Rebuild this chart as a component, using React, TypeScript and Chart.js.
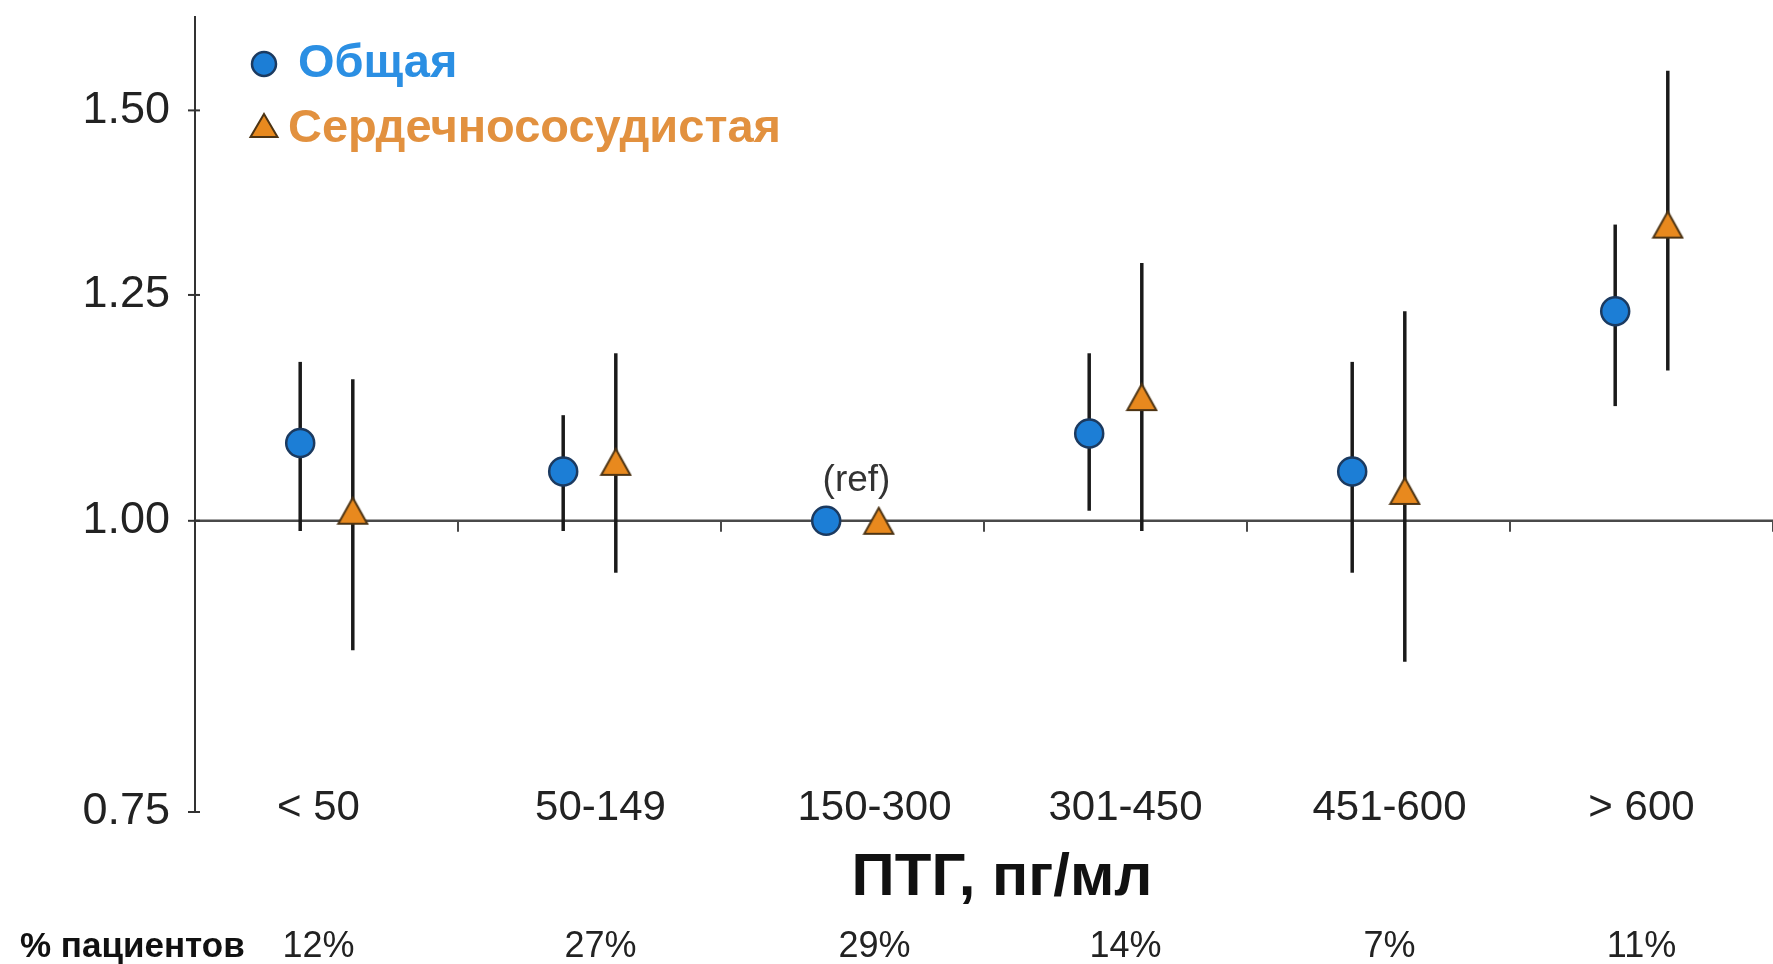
import React, { useEffect, useRef } from 'react';
import { Chart, registerables } from 'chart.js';

Chart.register(...registerables);

// ---- data ----
const categories = ['< 50', '50-149', '150-300', '301-450', '451-600', '> 600'];
const patientShare = ['12%', '27%', '29%', '14%', '7%', '11%'];
const overallHR = [1.08, 1.05, 1.0, 1.09, 1.05, 1.23];
const overallLow: (number | null)[] = [0.99, 0.99, null, 1.01, 0.95, 1.12];
const overallHigh: (number | null)[] = [1.17, 1.11, null, 1.18, 1.17, 1.34];
const cvHR = [1.01, 1.06, 1.0, 1.13, 1.03, 1.34];
const cvLow: (number | null)[] = [0.88, 0.95, null, 0.99, 0.87, 1.16];
const cvHigh: (number | null)[] = [1.15, 1.18, null, 1.29, 1.23, 1.56];
const yTicks = [0.75, 1.0, 1.25, 1.5];
const refIndex = 2;
const seriesNames = ['Общая', 'Сердечнососудистая'];
const xTitle = 'ПТГ, пг/мл';
const shareTitle = '% пациентов';

// ---- style ----
const FONT = '"Liberation Sans", Arial, sans-serif';
const BLUE = '#1c7ed6';
const BLUE_EDGE = '#1b3a60';
const ORANGE = '#e8891e';
const ORANGE_EDGE = '#4d3414';
const OFFSET = 0.1;
const LABEL_NUDGE = [-8, 11, 22, 10, 11, 0];

function makeTriangle(w: number, h: number, lw: number): HTMLCanvasElement {
  const c = document.createElement('canvas');
  c.width = w + lw * 2;
  c.height = h + lw * 2;
  const g = c.getContext('2d')!;
  g.beginPath();
  g.moveTo(lw + w / 2, lw);
  g.lineTo(lw + w, lw + h);
  g.lineTo(lw, lw + h);
  g.closePath();
  g.fillStyle = ORANGE;
  g.fill();
  g.lineWidth = lw;
  g.lineJoin = 'miter';
  g.strokeStyle = ORANGE_EDGE;
  g.stroke();
  return c;
}

const decorPlugin = {
  id: 'decor',
  beforeDatasetsDraw(chart: any) {
    const { ctx, chartArea } = chart;
    const x = chart.scales.x;
    const y = chart.scales.y;
    ctx.save();
    const y1 = y.getPixelForValue(1);
    ctx.strokeStyle = '#4a4a4a';
    ctx.lineWidth = 2.5;
    ctx.beginPath();
    ctx.moveTo(chartArea.left, y1);
    ctx.lineTo(chartArea.right, y1);
    ctx.stroke();
    ctx.lineWidth = 2;
    for (let i = 0; i < categories.length; i++) {
      const px = x.getPixelForValue(i + 0.5);
      ctx.beginPath();
      ctx.moveTo(px, y1);
      ctx.lineTo(px, y1 + 11);
      ctx.stroke();
    }
    ctx.strokeStyle = '#333';
    yTicks.forEach((v) => {
      const py = y.getPixelForValue(v);
      ctx.beginPath();
      ctx.moveTo(chartArea.left - 7, py);
      ctx.lineTo(chartArea.left + 5, py);
      ctx.stroke();
    });
    // error bars
    chart.data.datasets.forEach((ds: any, di: number) => {
      const meta = chart.getDatasetMeta(di);
      ctx.strokeStyle = '#1a1a1a';
      ctx.lineWidth = 3.5;
      meta.data.forEach((pt: any, i: number) => {
        const lo = ds.errLow[i];
        const hi = ds.errHigh[i];
        if (lo == null || hi == null) return;
        ctx.beginPath();
        ctx.moveTo(pt.x, y.getPixelForValue(lo));
        ctx.lineTo(pt.x, y.getPixelForValue(hi));
        ctx.stroke();
      });
    });
    ctx.restore();
  },
  afterDraw(chart: any) {
    const { ctx } = chart;
    const x = chart.scales.x;
    const y = chart.scales.y;
    ctx.save();
    ctx.textBaseline = 'middle';
    // legend
    ctx.beginPath();
    ctx.arc(264, 64, 12, 0, Math.PI * 2);
    ctx.fillStyle = BLUE;
    ctx.fill();
    ctx.lineWidth = 2.5;
    ctx.strokeStyle = BLUE_EDGE;
    ctx.stroke();
    ctx.font = `bold 47px ${FONT}`;
    ctx.fillStyle = '#2b8fe3';
    ctx.textAlign = 'left';
    ctx.fillText(seriesNames[0], 298, 64);
    ctx.beginPath();
    ctx.moveTo(264, 114);
    ctx.lineTo(277.5, 137);
    ctx.lineTo(250.5, 137);
    ctx.closePath();
    ctx.fillStyle = ORANGE;
    ctx.fill();
    ctx.lineWidth = 2;
    ctx.strokeStyle = ORANGE_EDGE;
    ctx.stroke();
    ctx.fillStyle = '#e2913f';
    ctx.fillText(seriesNames[1], 288, 129);

    // category labels
    const yBottom = y.getPixelForValue(0.75);
    ctx.textAlign = 'center';
    ctx.fillStyle = '#222';
    ctx.font = `42px ${FONT}`;
    categories.forEach((c, i) => {
      ctx.fillText(c, x.getPixelForValue(i) + LABEL_NUDGE[i], yBottom - 4);
    });
    // (ref)
    ctx.font = `37px ${FONT}`;
    ctx.fillStyle = '#333';
    ctx.fillText('(ref)', x.getPixelForValue(refIndex) + 4, y.getPixelForValue(1) - 40);
    // title
    ctx.font = `bold 60px ${FONT}`;
    ctx.fillStyle = '#111';
    ctx.fillText(xTitle, 1002, 878);
    // share row
    ctx.font = `36px ${FONT}`;
    ctx.fillStyle = '#222';
    patientShare.forEach((p, i) => {
      ctx.fillText(p, x.getPixelForValue(i) + LABEL_NUDGE[i], 947);
    });
    ctx.font = `bold 35px ${FONT}`;
    ctx.textAlign = 'left';
    ctx.fillStyle = '#111';
    ctx.fillText(shareTitle, 20, 947);
    ctx.restore();
  },
};

export default function App() {
  const canvasRef = useRef<HTMLCanvasElement | null>(null);

  useEffect(() => {
    document.body.style.margin = '0';
    const canvas = canvasRef.current;
    if (!canvas) return;
    const tri = makeTriangle(29, 26, 2);
    const chart = new Chart(canvas, {
      type: 'scatter',
      data: {
        datasets: [
          {
            label: seriesNames[0],
            data: overallHR.map((v, i) => ({ x: i - OFFSET, y: v })),
            errLow: overallLow,
            errHigh: overallHigh,
            pointStyle: 'circle',
            pointRadius: 14,
            pointBackgroundColor: BLUE,
            pointBorderColor: BLUE_EDGE,
            pointBorderWidth: 2.5,
            showLine: false,
          } as any,
          {
            label: seriesNames[1],
            data: cvHR.map((v, i) => ({ x: i + OFFSET, y: v })),
            errLow: cvLow,
            errHigh: cvHigh,
            pointStyle: tri,
            pointRadius: 16,
            showLine: false,
          } as any,
        ],
      },
      options: {
        animation: false,
        responsive: false,
        maintainAspectRatio: false,
        devicePixelRatio: 1,
        layout: { autoPadding: false, padding: { top: 17, right: 0, bottom: 152, left: 0 } },
        plugins: {
          legend: { display: false },
          tooltip: { enabled: false },
        },
        scales: {
          x: {
            type: 'linear',
            min: -0.5,
            max: categories.length - 0.5,
            display: false,
            ticks: { display: false },
            afterFit: (s: any) => {
              s.paddingLeft = 0;
              s.paddingRight = 0;
              s.paddingTop = 0;
              s.paddingBottom = 0;
            },
          },
          y: {
            type: 'logarithmic',
            min: 0.75,
            max: 1.645,
            afterBuildTicks: (s: any) => {
              s.ticks = yTicks.map((v) => ({ value: v }));
            },
            afterFit: (s: any) => {
              s.width = 195;
              s.paddingTop = 0;
              s.paddingBottom = 0;
              s.paddingLeft = 0;
              s.paddingRight = 0;
            },
            grid: { display: true, drawOnChartArea: false, drawTicks: false },
            border: { display: true, color: '#333', width: 2 },
            ticks: {
              autoSkip: false,
              padding: 25,
              color: '#222',
              font: { family: FONT, size: 45 },
              callback: (v: any) => Number(v).toFixed(2),
            },
          },
        },
      } as any,
      plugins: [decorPlugin],
    });
    return () => chart.destroy();
  }, []);

  return (
    <div style={{ width: '1773px', height: '964px', background: '#fff', overflow: 'hidden' }}>
      <canvas ref={canvasRef} width={1773} height={964} style={{ display: 'block' }} />
    </div>
  );
}
